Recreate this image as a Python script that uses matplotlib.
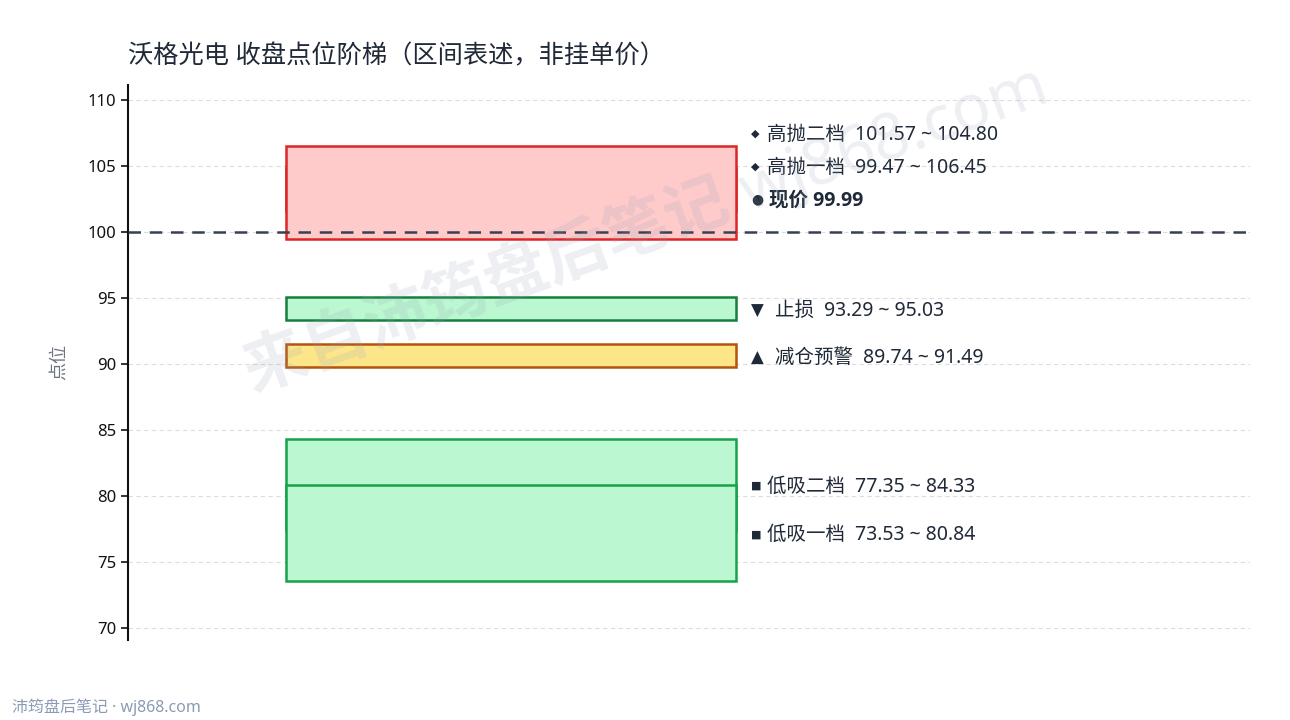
import matplotlib
matplotlib.use('Agg')
import matplotlib.pyplot as plt
from matplotlib.patches import Rectangle

plt.rcParams['font.family'] = ['Noto Sans', 'Noto Sans CJK SC', 'DejaVu Sans']
plt.rcParams['axes.unicode_minus'] = False

# 数据
title = '沃格光电 收盘点位阶梯（区间表述，非挂单价）'
price = 99.99
zone_names = ['高抛二档', '高抛一档', '止损', '减仓预警', '低吸二档', '低吸一档']
zone_low = [101.57, 99.47, 93.29, 89.74, 77.35, 73.53]
zone_high = [104.80, 106.45, 95.03, 91.49, 84.33, 80.84]
zone_marks = ['◆', '◆', '▼', '▲', '■', '■']
zone_fill = ['#fecaca', '#fecaca', '#bbf7d0', '#fde68a', '#bbf7d0', '#bbf7d0']
zone_edge = ['#dc2626', '#dc2626', '#15803d', '#b45309', '#16a34a', '#16a34a']
yticks = [70, 75, 80, 85, 90, 95, 100, 105, 110]

TXT = '#1f2937'

fig = plt.figure(figsize=(12.9, 7.2), dpi=100)
ax = fig.add_axes([128 / 1290, 80 / 720, 1122 / 1290, 555 / 720])
ax.set_xlim(0, 1)
ax.set_ylim(69.1, 111.1)

for lo, hi, fc, ec in zip(zone_low, zone_high, zone_fill, zone_edge):
    ax.add_patch(Rectangle((0.141, lo), 0.401, hi - lo, facecolor=fc,
                           edgecolor=ec, linewidth=1.8, zorder=2))

ax.axhline(price, color='#374151', linestyle=(0, (5, 3.5)), linewidth=1.8, zorder=3)

# 标签位置：区间中点，自下而上避让
labels = []
for n, lo, hi, m in zip(zone_names, zone_low, zone_high, zone_marks):
    labels.append(((lo + hi) / 2, m, f'{n}  {lo:.2f} ~ {hi:.2f}', 'normal'))
labels.append((price + 2.5, '●', f'现价 {price:.2f}', 'bold'))
labels.sort(key=lambda t: t[0])
gap = 2.5
placed = []
for y, m, s, w in labels:
    if placed and y < placed[-1][0] + gap and placed[-1][0] > 98:
        y = placed[-1][0] + gap
    placed.append((y, m, s, w))

mark_size = {'◆': 8, '■': 8, '●': 10, '▼': 12, '▲': 12}
mark_dy = {'◆': -3.0, '■': -3.0, '●': -3.6, '▼': -5.0, '▲': -5.0}
mark_dx = {'◆': 11, '■': 11, '●': 12.5, '▼': 17, '▲': 17}
for y, m, s, w in placed:
    ax.annotate(m, (0.5555, y), xytext=(0, mark_dy[m]), textcoords='offset points',
                fontsize=mark_size[m], color=TXT, va='baseline', ha='left',
                family='DejaVu Sans', zorder=4)
    fam = ['Open Sans', 'Noto Sans CJK SC'] if w == 'bold' else None
    ax.annotate(s, (0.5555, y), xytext=(mark_dx[m], -5.0), textcoords='offset points',
                fontsize=14, fontweight=w, color=TXT, va='baseline', ha='left',
                family=fam, zorder=4)

ax.set_yticks(yticks)
ax.set_xticks([])
ax.tick_params(axis='y', labelsize=12, length=5, width=1.2, colors='#111111')
ax.grid(axis='y', color='#dddddd', linestyle=(0, (4, 3)), linewidth=0.8, zorder=0)
for s in ['top', 'right', 'bottom']:
    ax.spines[s].set_visible(False)
ax.spines['left'].set_linewidth(1.5)
ax.spines['left'].set_color('#111111')
ax.set_ylabel('点位', fontsize=13, color='#6b7280', labelpad=14)

fig.text(128 / 1290, 1 - 57 / 720, title, fontsize=18.2, color=TXT, va='center', ha='left')

# 水印
fig.text(645 / 1290, 1 - 228 / 720, '来自沛筠盘后笔记 wj868.com', fontsize=46, fontweight='bold',
         color='#94a3b8', alpha=0.17, rotation=20, ha='center', va='center', zorder=10)

fig.text(12 / 1290, 1 - 707 / 720, '沛筠盘后笔记 · wj868.com', fontsize=11.5, color='#8b9bb4',
         va='center', ha='left')

fig.savefig('out.png', dpi=100)
